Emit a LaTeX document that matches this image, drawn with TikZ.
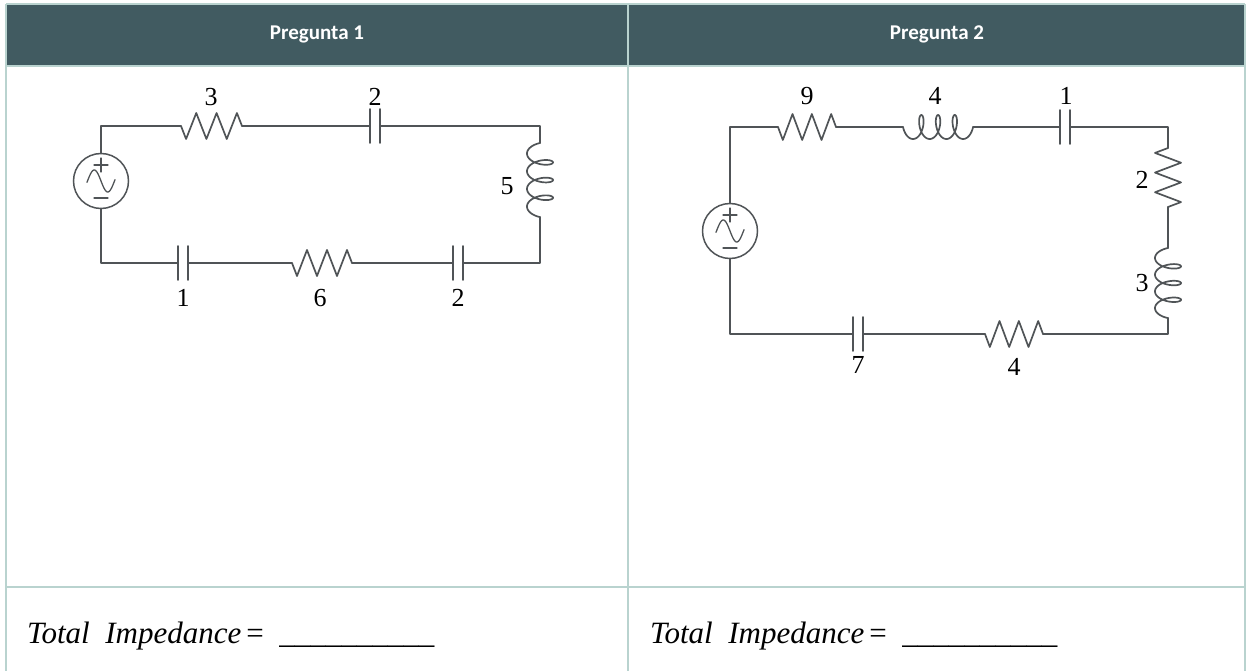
\documentclass[tikz,border=0pt]{standalone}
\usepackage{fontspec}
\setmainfont{Liberation Serif}
\newfontfamily\hdrfont{Carlito}
\definecolor{hdrcol}{HTML}{415B61}
\definecolor{gridcol}{HTML}{B9D3CF}
\definecolor{wirecol}{HTML}{505457}
\tikzset{
  wire/.style={line width=1.7pt, draw=wirecol, line join=round, line cap=round},
  gridline/.style={line width=2pt, draw=gridcol},
  hdrtext/.style={text=white, font=\hdrfont\bfseries\fontsize{21}{25}\selectfont},
  lbl/.style={font=\fontsize{26}{30}\selectfont, text=black, inner sep=0pt},
  tot/.style={font=\fontsize{31}{36}\selectfont, text=black, inner sep=0pt, anchor=base west}
}
% horizontal resistor: x1, x2, y
\newcommand{\ckHRes}[3]{%
  \draw[wire] (#1,#3) -- ++({(#2-#1)/12},13) -- ++({(#2-#1)/6},-26) -- ++({(#2-#1)/6},26)
   -- ++({(#2-#1)/6},-26) -- ++({(#2-#1)/6},26) -- ++({(#2-#1)/6},-26) -- (#2,#3);}
% vertical resistor: x, y1, y2
\newcommand{\ckVRes}[3]{%
  \draw[wire] (#1,#2) -- ++(-13,{(#3-#2)/12}) -- ++(26,{(#3-#2)/6}) -- ++(-26,{(#3-#2)/6})
   -- ++(26,{(#3-#2)/6}) -- ++(-26,{(#3-#2)/6}) -- ++(26,{(#3-#2)/6}) -- (#1,#3);}
% horizontal inductor: x1, x2, y
\newcommand{\ckHInd}[3]{%
  \pgfmathsetmacro\cka{2.66*(#2-#1)/70}\pgfmathsetmacro\ckb{5.8*(#2-#1)/70}%
  \draw[wire] plot[domain=-90:1170, samples=240, variable=\t, smooth]
    ({#1 + \cka*(\t+90)*pi/180 + \ckb*(sin(\t)+1)}, {#3 + 12*cos(\t)});}
% vertical inductor: x, y1, y2
\newcommand{\ckVInd}[3]{%
  \pgfmathsetmacro\cka{2.66*(#3-#2)/70}\pgfmathsetmacro\ckb{5.8*(#3-#2)/70}%
  \draw[wire] plot[domain=-90:1170, samples=240, variable=\t, smooth]
    ({#1 - 13*cos(\t)}, {#2 + \cka*(\t+90)*pi/180 + \ckb*(sin(\t)+1)});}
% horizontal capacitor: cx, y
\newcommand{\ckHCap}[2]{%
  \draw[wire] ({#1-5},{#2-17}) -- ({#1-5},{#2+17});
  \draw[wire] ({#1+5},{#2-17}) -- ({#1+5},{#2+17});}
% AC source: name, cx, cy
\newcommand{\ckSrc}[3]{%
  \node[circle, draw=wirecol, line width=1.5pt, minimum size=55pt, inner sep=0pt] (#1) at (#2,#3) {};
  \draw[wire, line width=1.3pt] ({#2-7},{#3-16}) -- ({#2+7},{#3-16}) ({#2},{#3-23}) -- ({#2},{#3-9});
  \draw[wire, line width=1.3pt] ({#2-7},{#3+17}) -- ({#2+7},{#3+17});
  \draw[wire, line width=1.3pt] plot[domain=-14:14, samples=60, variable=\u, smooth]
    ({#2+\u},{#3 - 11*sin(\u*180/13.5+180)});}
\begin{document}
\begin{tikzpicture}[x=1pt,y=-1pt]
\useasboundingbox (0,0) rectangle (1250,671);
% table
\fill[hdrcol] (6,4) rectangle (1245,66);
\draw[gridline] (6,4) -- (1245,4);
\draw[gridline] (6,4) -- (6,671);
\draw[gridline] (1245,4) -- (1245,671);
\draw[gridline] (628,4) -- (628,671);
\draw[gridline] (6,66) -- (1245,66);
\draw[gridline] (6,587) -- (1245,587);
\node[hdrtext] (h1) at (317,34) {Pregunta 1};
\node[hdrtext] (h2) at (937,34) {Pregunta 2};

% ---------- circuit 1 ----------
\ckSrc{s1}{101}{181}
\coordinate (a1) at (101,126); \coordinate (a2) at (540,126);
\coordinate (a3) at (540,263); \coordinate (a4) at (101,263);
\coordinate (r3a) at (181,126); \coordinate (r3b) at (242,126);
\coordinate (c2a) at (370,126); \coordinate (c2b) at (380,126);
\coordinate (l5a) at (540,143); \coordinate (l5b) at (540,217);
\coordinate (c2c) at (463,263); \coordinate (c2d) at (453,263);
\coordinate (r6b) at (352,263); \coordinate (r6a) at (292,263);
\coordinate (c1b) at (188,263); \coordinate (c1a) at (178,263);
\draw[wire] (s1.north) -- (a1) -- (r3a);
\ckHRes{181}{242}{126}
\draw[wire] (r3b) -- (c2a);
\ckHCap{375}{126}
\draw[wire] (c2b) -- (a2) -- (l5a);
\ckVInd{540}{143}{217}
\draw[wire] (l5b) -- (a3) -- (c2c);
\ckHCap{458}{263}
\draw[wire] (c2d) -- (r6b);
\ckHRes{292}{352}{263}
\draw[wire] (r6a) -- (c1b);
\ckHCap{183}{263}
\draw[wire] (c1a) -- (a4) -- (s1.south);
\node[lbl] (t3) at (211,97) {3};
\node[lbl] (t2) at (375,97) {2};
\node[lbl] (t5) at (507,186) {5};
\node[lbl] (t1) at (183,298) {1};
\node[lbl] (t6) at (320,298) {6};
\node[lbl] (t2b) at (458,298) {2};

% ---------- circuit 2 ----------
\ckSrc{s2}{730}{231}
\coordinate (b1) at (730,127); \coordinate (b2) at (1168,127);
\coordinate (b3) at (1168,334); \coordinate (b4) at (730,334);
\coordinate (r9a) at (778,127); \coordinate (r9b) at (836,127);
\coordinate (l4a) at (903,127); \coordinate (l4b) at (973,127);
\coordinate (c1a2) at (1060,127); \coordinate (c1b2) at (1070,127);
\coordinate (r2a) at (1168,148); \coordinate (r2b) at (1168,207);
\coordinate (l3a) at (1168,248); \coordinate (l3b) at (1168,318);
\coordinate (r4b) at (1043,334); \coordinate (r4a) at (985,334);
\coordinate (c7b) at (863,334); \coordinate (c7a) at (853,334);
\draw[wire] (s2.north) -- (b1) -- (r9a);
\ckHRes{778}{836}{127}
\draw[wire] (r9b) -- (l4a);
\ckHInd{903}{973}{127}
\draw[wire] (l4b) -- (c1a2);
\ckHCap{1065}{127}
\draw[wire] (c1b2) -- (b2) -- (r2a);
\ckVRes{1168}{148}{207}
\draw[wire] (r2b) -- (l3a);
\ckVInd{1168}{248}{318}
\draw[wire] (l3b) -- (b3) -- (r4b);
\ckHRes{985}{1043}{334}
\draw[wire] (r4a) -- (c7b);
\ckHCap{858}{334}
\draw[wire] (c7a) -- (b4) -- (s2.south);
\node[lbl] (u9) at (807,96) {9};
\node[lbl] (u4) at (935,96) {4};
\node[lbl] (u1) at (1066,96) {1};
\node[lbl] (u2) at (1142,180) {2};
\node[lbl] (u3) at (1142,283) {3};
\node[lbl] (u7) at (858,365) {7};
\node[lbl] (u4b) at (1014,367) {4};

% ---------- bottom row ----------
\node[tot] (z1) at (27,643) {\textit{Total\ \ Impedance}\,=\enspace\_\_\_\_\_\_\_\_\_\_};
\node[tot] (z2) at (650,643) {\textit{Total\ \ Impedance}\,=\enspace\_\_\_\_\_\_\_\_\_\_};
\end{tikzpicture}
\end{document}
